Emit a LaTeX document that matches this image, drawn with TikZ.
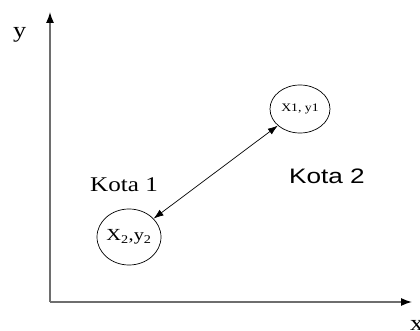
\documentclass[tikz,border=0pt]{standalone}
\usepackage{fontspec}
\setmainfont{Liberation Serif}
\newfontfamily\serifwide[FakeStretch=1.2]{Liberation Serif}
\newfontfamily\sanswide[FakeStretch=1.25]{Liberation Sans}
\usetikzlibrary{arrows.meta, shapes.geometric}
\definecolor{axisgray}{RGB}{110,110,110}

\begin{document}
\begin{tikzpicture}[x=1bp, y=1bp,
    axis/.style={draw=axisgray, line width=1.3bp, -{Latex[length=11bp, width=8bp, color=black]}},
    kota/.style={ellipse, draw, line width=0.7bp, inner sep=0pt}]
        \useasboundingbox (0,0) rectangle (420,331);

        % Axes
        \coordinate (o) at (50, 29);
        \coordinate (ytop) at (50, 319);
        \coordinate (xend) at (412, 29);
        \draw[axis] (o) -- (ytop);
        \draw[axis] (o) -- (xend);
        \node[anchor=base west, inner sep=0pt, font=\serifwide\fontsize{22}{22}\selectfont] (ylab) at (13, 294) {y};
        \node[anchor=base west, inner sep=0pt, font=\serifwide\fontsize{22}{22}\selectfont] (xlab) at (410, 1) {x};

        % Points
        \node[kota, minimum width=60bp, minimum height=48bp, font=\serifwide\fontsize{11.5}{11.5}\selectfont] (p1) at (300, 222) {X1, y1};
        \node[kota, minimum width=64bp, minimum height=56bp, font=\serifwide\fontsize{17}{17}\selectfont] (p2) at (129, 94) {X\textsubscript{2},y\textsubscript{2}};

        % Distance between points
        \draw[line width=0.7bp, {Latex[length=10bp, width=7bp]}-{Latex[length=10bp, width=7bp]}] (p2) -- (p1);

        % Labels
        \node[anchor=base west, inner sep=0pt, font=\serifwide\fontsize{21}{21}\selectfont] (kota1) at (90, 140) {Kota 1};
        \node[anchor=base west, inner sep=0pt, font=\sanswide\fontsize{21}{21}\selectfont] (kota2) at (289, 148) {Kota 2};
\end{tikzpicture}
\end{document}
